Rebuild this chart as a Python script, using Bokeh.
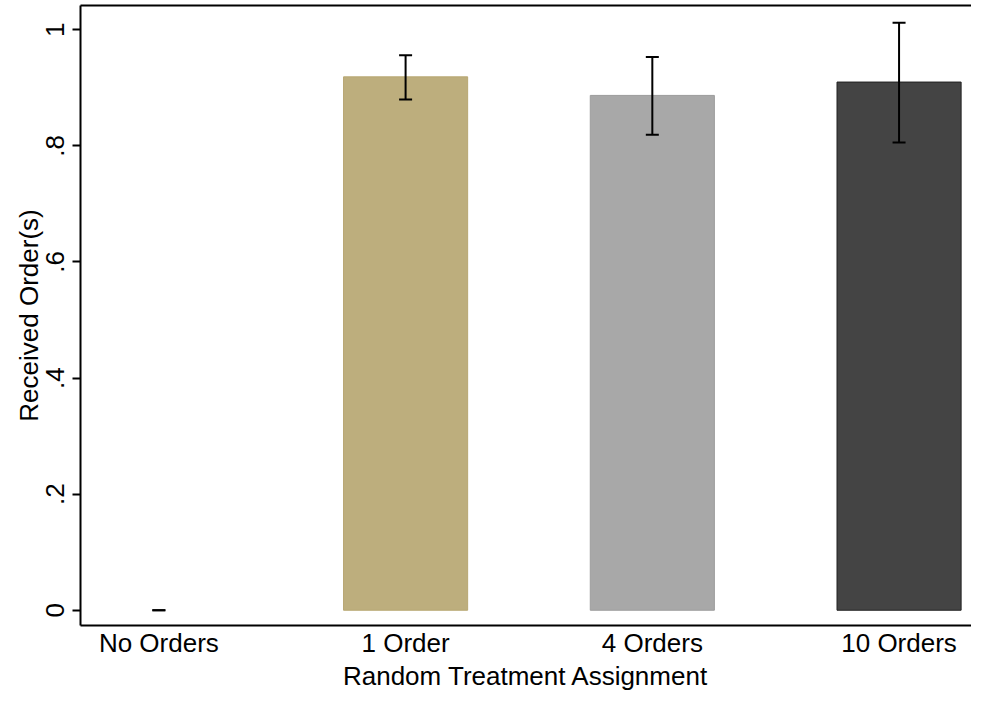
from bokeh.plotting import figure
from bokeh.models import ColumnDataSource, Whisker, TeeHead, FixedTicker, LinearAxis, Range1d
from bokeh.embed import file_html
from bokeh.resources import INLINE

# ---- data ----
categories = ["No Orders", "1 Order", "4 Orders", "10 Orders"]
positions = [0, 1, 2, 3]
means = [0.0, 0.919, 0.887, 0.910]
ci_low = [0.0, 0.880, 0.819, 0.806]
ci_high = [0.0, 0.956, 0.953, 1.012]
y_ticks = [0, 0.2, 0.4, 0.6, 0.8, 1.0]
y_tick_labels = ["0", ".2", ".4", ".6", ".8", "1"]

fill_colors = ["#ffffff", "#bdae7d", "#a8a8a8", "#444444"]
line_colors = ["#ffffff", "#b8a773", "#9c9c9c", "#222222"]
line_alphas = [0.0, 1.0, 1.0, 1.0]

FONT = "Liberation Sans"
FS = "26px"

src = ColumnDataSource(dict(x=positions, top=means, lo=ci_low, hi=ci_high,
                            fill=fill_colors, line=line_colors, la=line_alphas))

p = figure(width=971, height=693, output_backend="svg", toolbar_location=None,
           x_range=Range1d(-0.3176, 3.2936), y_range=Range1d(-0.0263, 1.0419),
           min_border_left=80, min_border_right=0, min_border_top=5, min_border_bottom=58,
           x_axis_label="Random Treatment Assignment", y_axis_label="Received Order(s)")

p.vbar(x="x", width=0.503, top="top", bottom=0, source=src,
       fill_color="fill", line_color="line", line_alpha="la", line_width=1)

wh = Whisker(source=src, base="x", lower="lo", upper="hi",
             line_color="black", line_width=2, level="overlay",
             upper_head=TeeHead(size=13, line_width=2, line_color="black"),
             lower_head=TeeHead(size=13, line_width=2, line_color="black"))
p.add_layout(wh)

p.grid.visible = False
p.outline_line_color = None
p.background_fill_color = "white"
p.border_fill_color = "white"

# x axis
xa = p.xaxis[0]
xa.ticker = FixedTicker(ticks=positions)
xa.major_label_overrides = {pos: lab for pos, lab in zip(positions, categories)}
xa.major_tick_out = 0
xa.major_tick_in = 0
xa.minor_tick_out = 0
xa.minor_tick_in = 0
xa.axis_line_width = 2
xa.axis_line_color = "black"
xa.major_label_text_font = FONT
xa.major_label_text_font_size = FS
xa.major_label_text_color = "black"
xa.major_label_standoff = 2
xa.axis_label_text_font = FONT
xa.axis_label_text_font_size = FS
xa.axis_label_text_font_style = "normal"
xa.axis_label_text_color = "black"
xa.axis_label_standoff = 0

# y axis
ya = p.yaxis[0]
ya.ticker = FixedTicker(ticks=y_ticks)
ya.major_label_overrides = {t: lab for t, lab in zip(y_ticks, y_tick_labels)}
ya.major_label_orientation = "vertical"
ya.major_tick_out = 8
ya.major_tick_in = 0
ya.major_tick_line_width = 2
ya.minor_tick_out = 0
ya.minor_tick_in = 0
ya.axis_line_width = 2
ya.axis_line_color = "black"
ya.major_label_text_font = FONT
ya.major_label_text_font_size = FS
ya.major_label_text_color = "black"
ya.major_label_standoff = 8
ya.axis_label_text_font = FONT
ya.axis_label_text_font_size = FS
ya.axis_label_text_font_style = "normal"
ya.axis_label_text_color = "black"
ya.axis_label_standoff = 0

# top border line
top = LinearAxis(ticker=FixedTicker(ticks=[]), major_tick_out=0, major_tick_in=0,
                 minor_tick_out=0, minor_tick_in=0, major_label_standoff=0,
                 major_label_text_font_size="0px", axis_line_width=2, axis_line_color="black")
p.add_layout(top, "above")

open("out.html", "w").write(file_html(p, INLINE))
